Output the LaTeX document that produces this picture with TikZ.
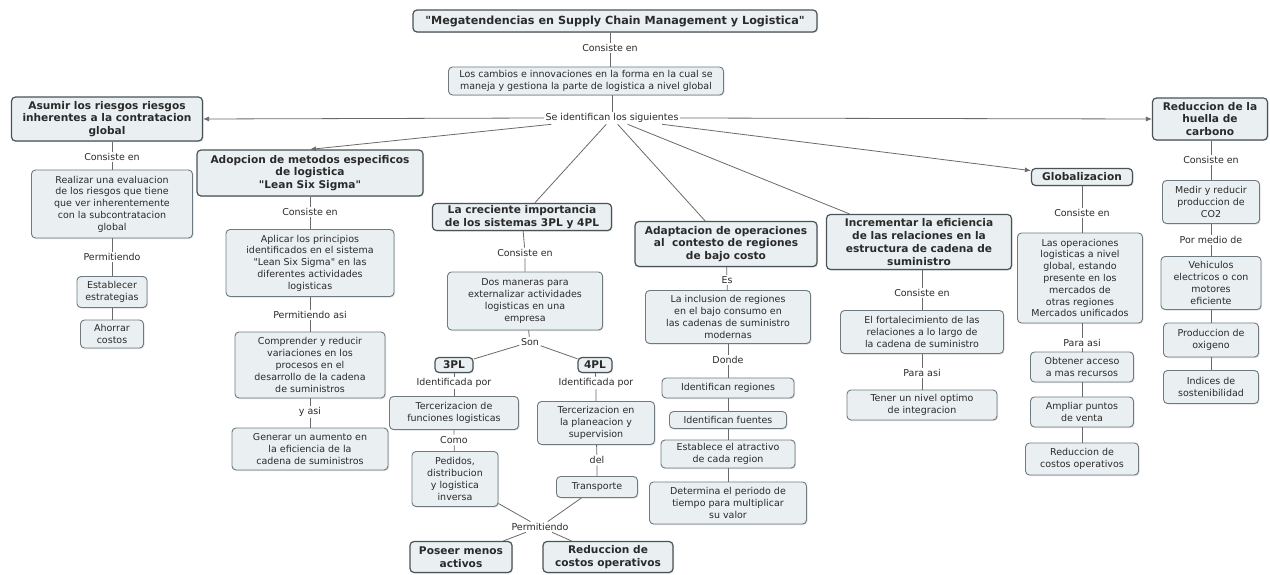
\documentclass[tikz,border=0pt]{standalone}
\usepackage{fontspec}
\setmainfont{DejaVu Sans}[Ligatures=TeXOff]
\usetikzlibrary{arrows.meta,shadows}
\definecolor{boxfill}{HTML}{EAF0F2}
\definecolor{boxline}{HTML}{6E7A80}
\definecolor{boldline}{HTML}{4A5358}
\definecolor{linkline}{HTML}{6A6A6A}
\definecolor{txt}{HTML}{2A2A2A}
\tikzset{
  concept/.style={draw=boxline, line width=0.9pt, fill=boxfill, rounded corners=4pt,
    align=center, inner sep=2pt, font=\fontsize{9.5}{11.8}\selectfont, text=txt,
    drop shadow={shadow xshift=1pt, shadow yshift=-1pt, opacity=0.25}},
  keyconcept/.style={concept, draw=boldline, line width=1.2pt,
    font=\fontsize{10.6}{12.8}\selectfont\bfseries},
  linkphrase/.style={align=center, inner sep=1.5pt, text=txt,
    font=\fontsize{9.5}{11}\selectfont},
  conn/.style={draw=linkline, line width=0.8pt},
  arr/.style={conn, -{Latex[length=6pt,width=5pt]}},
  box/.style args={#1x#2}{minimum width=#1pt, minimum height=#2pt}
}
\begin{document}
\begin{tikzpicture}[x=1pt,y=-1pt]
\useasboundingbox (0,0) rectangle (1270,575);
\fill[white] (0,0) rectangle (1270,575);

% ---- root ----
\node[keyconcept, box=404x22, font=\fontsize{11.2}{13}\selectfont\bfseries] (root) at (615,21) {"Megatendencias en Supply Chain Management y Logistica"};
\node[linkphrase] (lk0) at (610,48) {Consiste en};
\node[concept, box=275x28] (cambios) at (586,81) {Los cambios e innovaciones en la forma en la cual se\\maneja y gestiona la parte de logistica a nivel global};
\node[linkphrase] (sid) at (612,118) {Se identifican los siguientes};

% ---- riesgos ----
\node[keyconcept, box=191x44] (a1) at (107,119) {Asumir los riesgos riesgos\\inherentes a la contratacion\\global};
\node[linkphrase] (la1) at (112,157) {Consiste en};
\node[concept, box=161x68] (a2) at (112,204) {Realizar una evaluacion\\de los riesgos que tiene\\que ver inherentemente\\con la subcontratacion\\global};
\node[linkphrase] (la2) at (112,257) {Permitiendo};
\node[concept, box=70x31] (a3) at (112,292) {Establecer\\estrategias};
\node[concept, box=63x28] (a4) at (112,334) {Ahorrar\\costos};

% ---- Lean Six Sigma ----
\node[keyconcept, box=226x46] (l1) at (310,173) {Adopcion de metodos especificos\\de logistica\\"Lean Six Sigma"};
\node[linkphrase] (ll1) at (310,212) {Consiste en};
\node[concept, box=168x67] (l2) at (310,263) {Aplicar los principios\\identificados en el sistema\\"Lean Six Sigma" en las\\diferentes actividades\\logisticas};
\node[linkphrase] (ll2) at (310,315) {Permitiendo asi};
\node[concept, box=150x66] (l3) at (310,365) {Comprender y reducir\\variaciones en los\\procesos en el\\desarrollo de la cadena\\de suministros};
\node[linkphrase] (ll3) at (310,412) {y asi};
\node[concept, box=156x42] (l4) at (310,449) {Generar un aumento en\\la eficiencia de la\\cadena de suministros};

% ---- 3PL y 4PL ----
\node[keyconcept, box=179x27] (p1) at (522,217) {La creciente importancia\\de los sistemas 3PL y 4PL};
\node[linkphrase] (lp1) at (525,253) {Consiste en};
\node[concept, box=155x58] (p2) at (525,301) {Dos maneras para\\externalizar actividades\\logisticas en una\\empresa};
\node[linkphrase] (lp2) at (530,342) {Son};
\node[keyconcept, box=38x15, inner sep=1pt] (p3) at (454,365) {3PL};
\node[keyconcept, box=34x15, inner sep=1pt] (p4) at (595,365) {4PL};
\node[linkphrase] (lp3) at (454,383) {Identificada por};
\node[linkphrase] (lp4) at (596,383) {Identificada por};
\node[concept, box=129x33] (p5) at (454,413) {Tercerizacion de\\funciones logisticas};
\node[linkphrase] (lp5) at (454,440) {Como};
\node[concept, box=86x55] (p6) at (455,479) {Pedidos,\\distribucion\\y logistica\\inversa};
\node[concept, box=117x43] (p7) at (596,423) {Tercerizacion en\\la planeacion y\\supervision};
\node[linkphrase] (lp6) at (597,460) {del};
\node[concept, box=81x21] (p8) at (597,487) {Transporte};
\node[linkphrase] (lp7) at (540,527) {Permitiendo};
\node[keyconcept, box=102x31] (p9) at (461,557) {Poseer menos\\activos};
\node[keyconcept, box=130x31] (p10) at (608,557) {Reduccion de\\costos operativos};

% ---- regiones de bajo costo ----
\node[keyconcept, box=182x45] (d1) at (726,244) {Adaptacion de operaciones\\al\ \ contesto de regiones\\de bajo costo};
\node[linkphrase] (ld1) at (727,280) {Es};
\node[concept, box=165x53] (d2) at (728,317) {La inclusion de regiones\\en el bajo consumo en\\las cadenas de suministro\\modernas};
\node[linkphrase] (ld2) at (728,360) {Donde};
\node[concept, box=132x20] (d3) at (728,388) {Identifican regiones};
\node[concept, box=117x17] (d4) at (728,420) {Identifican fuentes};
\node[concept, box=134x28] (d5) at (728,454) {Establece el atractivo\\de cada region};
\node[concept, box=157x42] (d6) at (728,503) {Determina el periodo de\\tiempo para multiplicar\\su valor};

% ---- relaciones ----
\node[keyconcept, box=185x55] (i1) at (919,242) {Incrementar la eficiencia\\de las relaciones en la\\estructura de cadena de\\suministro};
\node[linkphrase] (li1) at (922,293) {Consiste en};
\node[concept, box=163x43] (i2) at (922,332) {El fortalecimiento de las\\relaciones a lo largo de\\la cadena de suministro};
\node[linkphrase] (li2) at (922,373) {Para asi};
\node[concept, box=150x30] (i3) at (922,405) {Tener un nivel optimo\\de integracion};

% ---- globalizacion ----
\node[keyconcept, box=101x17, inner sep=1pt] (g1) at (1082,177) {Globalizacion};
\node[linkphrase] (lg1) at (1082,213) {Consiste en};
\node[concept, box=125x90] (g2) at (1080,278) {Las operaciones\\logisticas a nivel\\global, estando\\presente en los\\mercados de\\otras regiones\\Mercados unificados};
\node[linkphrase] (lg2) at (1082,343) {Para asi};
\node[concept, box=103x30] (g3) at (1082,367) {Obtener acceso\\a mas recursos};
\node[concept, box=103x30] (g4) at (1082,412) {Ampliar puntos\\de venta};
\node[concept, box=113x32] (g5) at (1082,459) {Reduccion de\\costos operativos};

% ---- huella de carbono ----
\node[keyconcept, box=115x42] (r1) at (1210,119) {Reduccion de la\\huella de\\carbono};
\node[linkphrase] (lr1) at (1211,160) {Consiste en};
\node[concept, box=97x43] (r2) at (1211,202) {Medir y reducir\\produccion de\\CO2};
\node[linkphrase] (lr2) at (1211,240) {Por medio de};
\node[concept, box=100x53] (r3) at (1211,283) {Vehiculos\\electricos o con\\motores\\eficiente};
\node[concept, box=95x34] (r4) at (1211,340) {Produccion de\\oxigeno};
\node[concept, box=95x33] (r5) at (1211,387) {Indices de\\sostenibilidad};

% ---- connectors ----
\draw[conn] (root.south -| lk0) -- (lk0);
\draw[conn] (lk0) -- (lk0 |- cambios.north);
\draw[conn] (cambios.south -| sid) -- (sid);

\draw[arr] (sid.west) -- (a1.east);
\draw[arr] (sid.east) -- (r1.west);
\draw[arr] (sid) -- (l1.north);
\draw[conn] (sid) -- (p1);
\draw[conn] (sid) -- (d1);
\draw[conn] (sid) -- (i1);
\draw[arr] (sid) -- (g1);

\draw[conn] (a1.south -| la1) -- (la1) -- (a2);
\draw[conn] (a2) -- (la2) -- (a3);
\draw[conn] (a3) -- (a4);

\draw[conn] (l1) -- (ll1) -- (l2);
\draw[conn] (l2) -- (ll2) -- (l3);
\draw[conn] (l3) -- (ll3) -- (l4);

\draw[conn] (p1) -- (lp1) -- (p2);
\draw[conn] (p2) -- (lp2);
\draw[conn] (lp2) -- (p3);
\draw[conn] (lp2) -- (p4);
\draw[conn] (p3) -- (lp3) -- (p5);
\draw[conn] (p4) -- (lp4) -- (p7);
\draw[conn] (p5) -- (lp5) -- (p6);
\draw[conn] (p7) -- (lp6) -- (p8);
\draw[conn] (p6) -- (lp7);
\draw[conn] (p8) -- (lp7);
\draw[conn] (lp7) -- (p9);
\draw[conn] (lp7) -- (p10);

\draw[conn] (d1) -- (ld1) -- (d2);
\draw[conn] (d2) -- (ld2) -- (d3);
\draw[conn] (d3) -- (d4);
\draw[conn] (d4) -- (d5);
\draw[conn] (d5) -- (d6);

\draw[conn] (i1.south -| li1) -- (li1) -- (i2);
\draw[conn] (i2) -- (li2) -- (i3);

\draw[conn] (g1) -- (lg1) -- (lg1 |- g2.north);
\draw[conn] (g2.south -| lg2) -- (lg2) -- (g3);
\draw[conn] (g3) -- (g4);
\draw[conn] (g4) -- (g5);

\draw[conn] (r1.south -| lr1) -- (lr1) -- (r2);
\draw[conn] (r2) -- (lr2) -- (r3);
\draw[conn] (r3) -- (r4);
\draw[conn] (r4) -- (r5);
\end{tikzpicture}
\end{document}
